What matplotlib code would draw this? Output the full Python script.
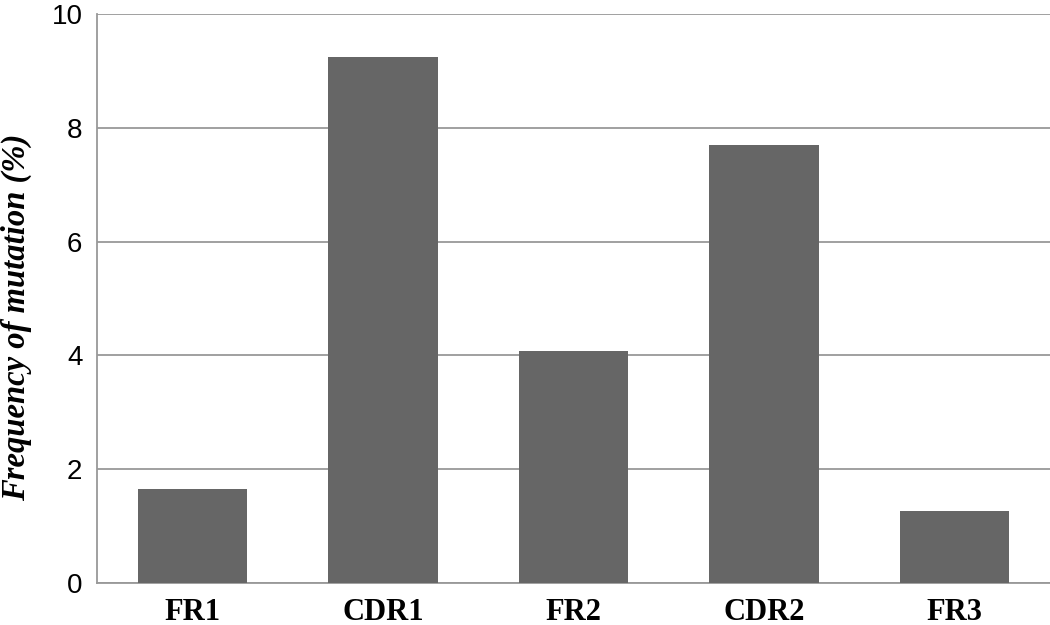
import matplotlib
matplotlib.use("Agg")
import matplotlib.pyplot as plt

categories = ["FR1", "CDR1", "FR2", "CDR2", "FR3"]
values = [1.66, 9.24, 4.08, 7.70, 1.27]
yticks = [0, 2, 4, 6, 8, 10]

fig = plt.figure(figsize=(10.5, 6.25), dpi=100)
ax = fig.add_axes([97/1050, 1-583/625, 1-97/1050, (583-14)/625])

x = list(range(len(categories)))
ax.bar(x, values, width=0.575, color="#666666", zorder=3)
ax.set_xlim(-0.5, len(categories) - 0.5)
ax.set_ylim(0, 10)
ax.set_yticks(yticks)
ax.set_yticklabels([str(t) for t in yticks], fontfamily="Liberation Sans", fontsize=20)
ax.set_xticks(x)
ax.set_xticklabels(categories, fontfamily="Liberation Serif", fontweight="bold", fontsize=22)
ax.tick_params(axis="both", length=0)
ax.tick_params(axis="x", pad=11)
ax.tick_params(axis="y", pad=10.5)
ax.yaxis.grid(True, color="#999999", linewidth=1.3, zorder=0)
for s in ["top", "right"]:
    ax.spines[s].set_visible(False)
for s in ["left", "bottom"]:
    ax.spines[s].set_color("#999999")
    ax.spines[s].set_linewidth(1.3)
ax.set_ylabel("Frequency of mutation (%)", fontfamily="Liberation Serif",
              fontweight="bold", fontstyle="italic", fontsize=23.5)
ax.yaxis.set_label_coords(-65/951, 0.467)

fig.savefig("out.png", dpi=100)
